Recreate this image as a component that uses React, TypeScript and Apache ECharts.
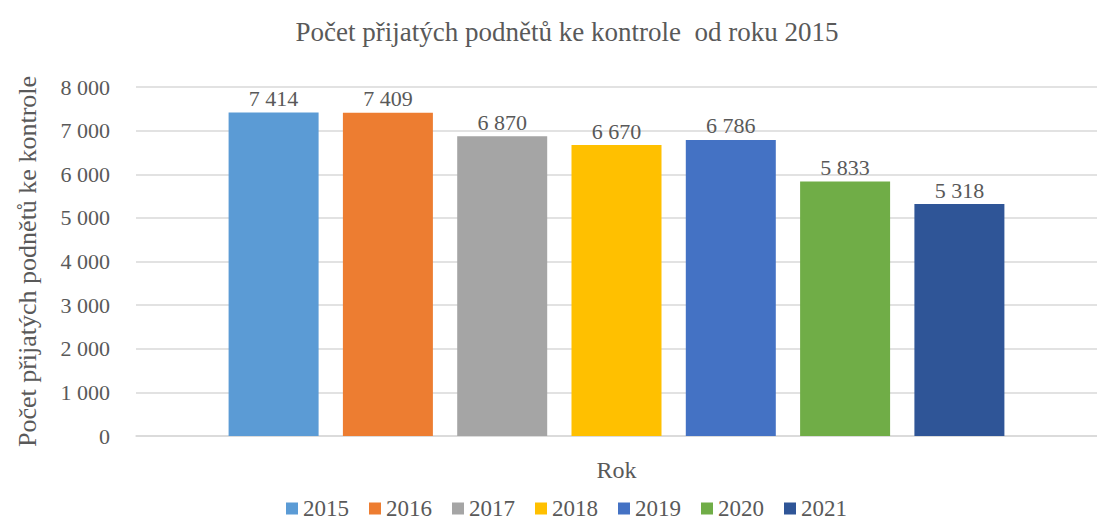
import React, { useEffect, useRef } from "react";
import * as echarts from "echarts";

const years = ["2015", "2016", "2017", "2018", "2019", "2020", "2021"];
const values = [7414, 7409, 6870, 6670, 6786, 5833, 5318];
const colors = ["#5B9BD5", "#ED7D31", "#A5A5A5", "#FFC000", "#4472C4", "#70AD47", "#2F5597"];
const categories = [""];
const yTicks = { min: 0, max: 8000, interval: 1000 };

const FONT = "Liberation Serif";
const TXT = "#595959";

const fmt = (v: number) => {
  const s = String(Math.round(v));
  return s.replace(/\B(?=(\d{3})+(?!\d))/g, " ");
};

export default function App() {
  const ref = useRef<HTMLDivElement>(null);
  useEffect(() => {
    if (!ref.current) return;
    const chart = echarts.init(ref.current, undefined, { renderer: "svg" });
    chart.setOption({
      animation: false,
      backgroundColor: "#ffffff",
      textStyle: { fontFamily: FONT, color: TXT },
      title: {
        text: "Počet přijatých podnětů ke kontrole  od roku 2015",
        left: 562,
        top: 13,
        textAlign: "center",
        textStyle: { fontFamily: FONT, fontSize: 27, fontWeight: "normal", color: TXT },
      },
      legend: {
        bottom: -1,
        left: 281,
        itemWidth: 12,
        itemHeight: 12,
        itemGap: 20,
        icon: "rect",
        textStyle: { fontFamily: FONT, fontSize: 23, color: TXT },
        data: years,
      },
      grid: { left: 136, right: 0, top: 87, bottom: 88, containLabel: false },
      xAxis: {
        type: "category",
        data: categories,
        name: "Rok",
        nameLocation: "middle",
        nameGap: 22,
        nameTextStyle: { fontFamily: FONT, fontSize: 24, color: TXT },
        axisLine: { show: true, lineStyle: { color: "#D9D9D9", width: 1.5 } },
        axisTick: { show: false },
        axisLabel: { show: false },
      },
      yAxis: {
        type: "value",
        min: yTicks.min,
        max: yTicks.max,
        interval: yTicks.interval,
        name: "Počet přijatých podnětů ke kontrole",
        nameLocation: "middle",
        nameGap: 96,
        nameTextStyle: { fontFamily: FONT, fontSize: 26, color: TXT },
        axisLine: { show: false },
        axisTick: { show: false },
        axisLabel: {
          fontFamily: FONT,
          fontSize: 22,
          color: TXT,
          margin: 26,
          formatter: (v: number) => fmt(v),
        },
        splitLine: { lineStyle: { color: "#D9D9D9", width: 1.5 } },
      },
      series: years.map((y, i) => ({
        name: y,
        type: "bar",
        data: [values[i]],
        barWidth: 90,
        barGap: "27%",
        itemStyle: { color: colors[i] },
        label: {
          show: true,
          position: "top",
          distance: 3,
          fontFamily: FONT,
          fontSize: 22,
          color: TXT,
          formatter: (p: any) => fmt(p.value),
        },
      })),
    });

    const forceFont = () => {
      try {
        const zr: any = chart.getZr();
        const list: any[] = zr.storage.getDisplayList(true);
        list.forEach((el: any) => {
          if (el && el.type === "tspan" && el.style) {
            const s = el.style;
            let size: any = s.fontSize;
            if (size == null) {
              const m = /(\d+(?:\.\d+)?)px/.exec(String(s.font || ""));
              size = m ? m[1] : 12;
            }
            size = parseFloat(size) || 12;
            delete s.fontSize;
            delete s.fontFamily;
            delete s.fontWeight;
            delete s.fontStyle;
            s.font = size + "px 'Liberation Serif'";
            if (el.markRedraw) el.markRedraw();
          }
        });
        zr.refreshImmediately();
      } catch (e) {
        // ignore
      }
    };
    forceFont();
    const t1 = setTimeout(forceFont, 0);
    const t2 = setTimeout(forceFont, 120);

    return () => {
      clearTimeout(t1);
      clearTimeout(t2);
      chart.dispose();
    };
  }, []);
  return (
    <div
      ref={ref}
      style={{ position: "fixed", left: 0, top: 0, width: 1097, height: 524 }}
    />
  );
}
